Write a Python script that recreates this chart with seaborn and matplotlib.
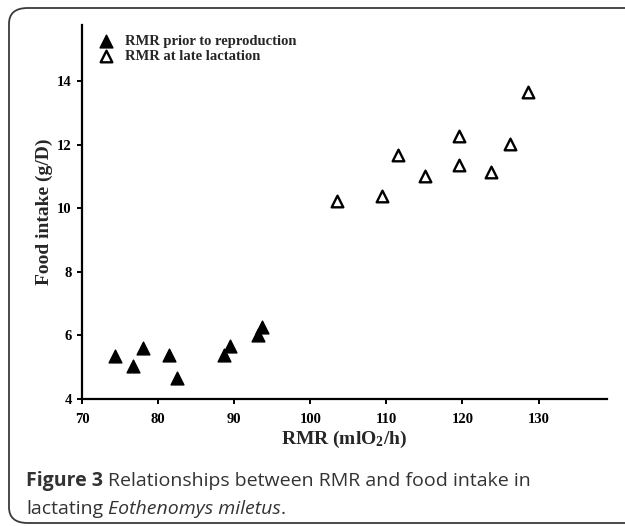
import matplotlib
matplotlib.use("Agg")
import matplotlib.pyplot as plt
import seaborn as sns
import pandas as pd
from matplotlib.patches import FancyBboxPatch

# Data
rmr_prior = [74.4, 76.7, 78.0, 81.4, 82.5, 88.7, 89.4, 93.1, 93.6]
food_prior = [5.35, 5.04, 5.59, 5.38, 4.66, 5.38, 5.67, 6.00, 6.27]
rmr_late = [103.5, 109.4, 111.5, 115.1, 119.6, 119.5, 123.7, 126.3, 128.6]
food_late = [10.24, 10.37, 11.68, 11.00, 12.28, 11.37, 11.14, 12.03, 13.66]
label_prior = "RMR prior to reproduction"
label_late = "RMR at late lactation"
x_ticks = [70, 80, 90, 100, 110, 120, 130]
y_ticks = [4, 6, 8, 10, 12, 14]

df_prior = pd.DataFrame({"RMR": rmr_prior, "Food": food_prior})
df_late = pd.DataFrame({"RMR": rmr_late, "Food": food_late})

sns.set_theme(style="ticks")
plt.rcParams['font.family'] = ['Liberation Serif', 'DejaVu Serif']
plt.rcParams['mathtext.fontset'] = 'custom'
plt.rcParams['mathtext.rm'] = 'Liberation Serif'
plt.rcParams['mathtext.bf'] = 'Liberation Serif:bold'
plt.rcParams['mathtext.it'] = 'Liberation Serif:italic'

W, H = 625, 526
fig = plt.figure(figsize=(W / 100, H / 100), dpi=100)
ax = fig.add_axes([82 / W, 1 - 399 / H, (607 - 82) / W, (399 - 25) / H])

sns.scatterplot(data=df_prior, x="RMR", y="Food", marker="^", s=85,
                color="black", edgecolor="black", linewidth=1.0,
                label=label_prior, ax=ax, zorder=3)
sns.scatterplot(data=df_late, x="RMR", y="Food", marker="^", s=70,
                facecolor="white", edgecolor="black", linewidth=1.7,
                label=label_late, ax=ax, zorder=3)

ax.set_xlim(70, 139)
ax.set_ylim(4, 15.76)
ax.set_xticks(x_ticks)
ax.set_yticks(y_ticks)
for s in ["top", "right"]:
    ax.spines[s].set_visible(False)
for s in ["left", "bottom"]:
    ax.spines[s].set_linewidth(1.6)
    ax.spines[s].set_color("black")
ax.tick_params(direction="out", length=3.8, width=1.4, colors="black",
               labelsize=10.5)
ax.tick_params(axis="x", pad=6)
ax.tick_params(axis="y", pad=3.5)
for lab in ax.get_xticklabels() + ax.get_yticklabels():
    lab.set_fontweight("bold")
ax.set_xlabel(r"RMR (mlO$_\mathbf{2}$/h)", fontsize=14, fontweight="bold",
              labelpad=2)
ax.set_ylabel("Food intake (g/D)", fontsize=14, fontweight="bold", labelpad=3)

leg = ax.legend(loc="upper left", frameon=False, fontsize=10.5,
                handletextpad=0.7, borderaxespad=0.0, labelspacing=0.12,
                handlelength=1.2, bbox_to_anchor=(0.018, 0.99))
for t in leg.get_texts():
    t.set_fontweight("bold")

# Rounded frame around the figure panel (runs off the right edge)
frame = FancyBboxPatch((9 / W, 1 - 523 / H), 1.1, (523 - 8) / H,
                       boxstyle="round,pad=0,rounding_size=0.03",
                       transform=fig.transFigure, fill=False,
                       edgecolor="#3a3a3a", linewidth=1.3, clip_on=False)
fig.patches.append(frame)

# Caption
cap_font = ['Open Sans', 'DejaVu Sans']
cap_size = 14
cap_color = "#333333"
fig.canvas.draw()
r = fig.canvas.get_renderer()
sp = fig.text(0, 0, "a a", fontsize=cap_size, family=cap_font)
sp2 = fig.text(0, 0, "aa", fontsize=cap_size, family=cap_font)
sp_w = sp.get_window_extent(renderer=r).width - sp2.get_window_extent(renderer=r).width
sp.remove(); sp2.remove()

y1 = 1 - 486 / H
y2 = 1 - 514 / H
t1 = fig.text(26 / W, y1, "Figure 3", fontsize=cap_size,
              fontweight="bold", color=cap_color, family=cap_font,
              va="baseline", ha="left")
bb = t1.get_window_extent(renderer=r)
fig.text((bb.x1 + sp_w) / W, y1,
         "Relationships between RMR and food intake in",
         fontsize=cap_size, color=cap_color, family=cap_font,
         va="baseline", ha="left")
t3 = fig.text(26 / W, y2, "lactating", fontsize=cap_size, color=cap_color,
              family=cap_font, va="baseline", ha="left")
bb3 = t3.get_window_extent(renderer=r)
t4 = fig.text((bb3.x1 + sp_w) / W, y2, "Eothenomys miletus",
              fontsize=cap_size, color=cap_color, family=cap_font,
              style="italic", va="baseline", ha="left")
bb4 = t4.get_window_extent(renderer=r)
fig.text(bb4.x1 / W, y2, ".", fontsize=cap_size, color=cap_color,
         family=cap_font, va="baseline", ha="left")

fig.savefig("out.png", dpi=100)
